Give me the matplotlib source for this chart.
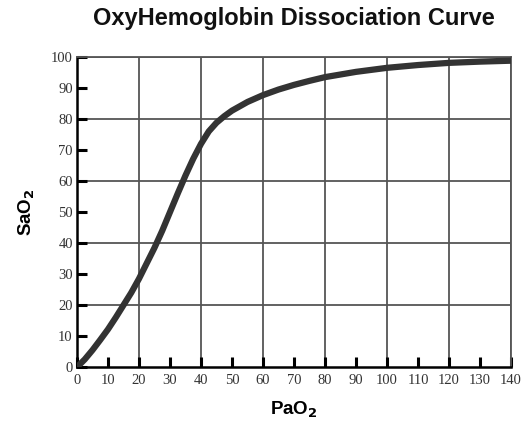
import matplotlib
matplotlib.use("Agg")
import matplotlib.pyplot as plt

pao2 = [0, 2.5, 5, 7.5, 10, 12.5, 15, 17.5, 20, 22.5, 25, 27.5, 30, 32.5, 35, 37.5, 40,
        42.5, 45, 47.5, 50, 55, 60, 65, 70, 75, 80, 90, 100, 110, 120, 130, 140]
sao2 = [0, 2.5, 5.5, 8.8, 12.2, 16, 20, 24, 28.5, 33.5, 38.5, 44, 50, 56, 61.8, 67.2, 72,
        76, 78.8, 80.9, 82.7, 85.5, 87.7, 89.5, 91, 92.3, 93.5, 95.2, 96.5, 97.4, 98.1, 98.5, 98.8]

x_ticks = list(range(0, 141, 10))
y_ticks = list(range(0, 101, 10))
grid_x = list(range(20, 141, 20))
grid_y = list(range(20, 101, 20))

fig = plt.figure(figsize=(5.22, 4.22), dpi=100)
ax = fig.add_axes([0.1475, 0.130, 0.979 - 0.1475, 0.865 - 0.130])

for gx in grid_x:
    ax.axvline(gx, color="#555555", lw=1.3, zorder=1)
for gy in grid_y:
    ax.axhline(gy, color="#555555", lw=1.3, zorder=1)

ax.plot(pao2, sao2, color="#333333", lw=4.5, solid_capstyle="round",
        solid_joinstyle="round", zorder=3)

ax.set_xlim(0, 140)
ax.set_ylim(0, 100)
ax.set_xticks(x_ticks)
ax.set_yticks(y_ticks)
ax.set_xticklabels([str(v) for v in x_ticks], family="Liberation Serif", fontsize=10.5, color="#333333")
ax.set_yticklabels([str(v) for v in y_ticks], family="Liberation Serif", fontsize=10.5, color="#333333")
ax.tick_params(direction="in", length=7, width=2.2, color="black")
ax.tick_params(axis="x", pad=5)
ax.tick_params(axis="y", pad=3)

for s in ["left", "bottom"]:
    ax.spines[s].set_linewidth(1.8)
    ax.spines[s].set_color("black")
for s in ["top", "right"]:
    ax.spines[s].set_linewidth(1.3)
    ax.spines[s].set_color("#555555")

ax.set_title("OxyHemoglobin Dissociation Curve", family="Liberation Sans", fontweight="bold",
             fontsize=17, pad=23, color="#111111")
ax.set_xlabel("PaO$_\\mathbf{2}$", family="Liberation Sans", fontweight="bold", fontsize=13.5, labelpad=9)
ax.set_ylabel("SaO$_\\mathbf{2}$", family="Liberation Sans", fontweight="bold", fontsize=13.5, labelpad=10)

fig.savefig("out.png", dpi=100)
